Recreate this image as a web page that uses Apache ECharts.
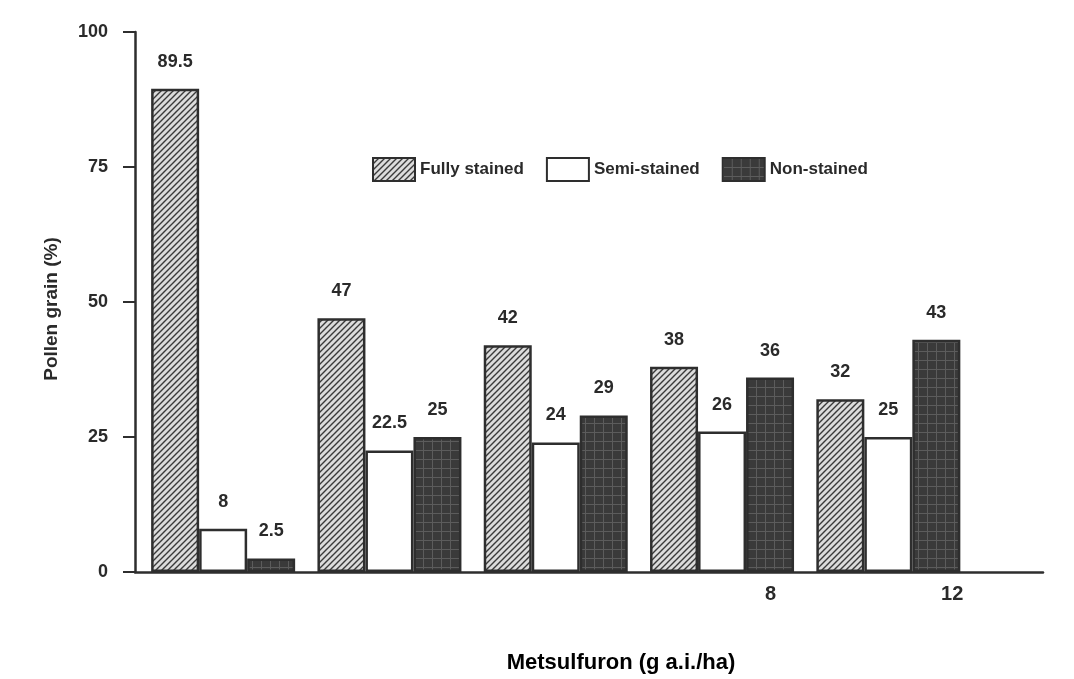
<!DOCTYPE html>
<html>
<head>
<meta charset="utf-8">
<script src="https://cdn.jsdelivr.net/npm/echarts@6/dist/echarts.min.js"></script>
<style>
html,body{margin:0;padding:0;background:#fff;}
#chart{width:1074px;height:679px;}
</style>
</head>
<body>
<div id="chart"></div>
<script>
// ---- data ----
var groupIndex = [0, 1, 2, 3, 4];
var tickLabels = ['', '', '', '8', '12'];
var seriesNames = ['Fully stained', 'Semi-stained', 'Non-stained'];
var fullyStained = [89.5, 47, 42, 38, 32];
var semiStained = [8, 22.5, 24, 26, 25];
var nonStained = [2.5, 25, 29, 36, 43];
var yTicks = [0, 25, 50, 75, 100];

// ---- patterns ----
function hatchPattern() {
  var c = document.createElement('canvas');
  c.width = 6; c.height = 6;
  var g = c.getContext('2d');
  g.fillStyle = '#dcdcdc';
  g.fillRect(0, 0, 6, 6);
  g.strokeStyle = '#3a3a3a';
  g.lineWidth = 1.4;
  g.beginPath();
  g.moveTo(0, 6); g.lineTo(6, 0);
  g.moveTo(-1, 1); g.lineTo(1, -1);
  g.moveTo(5, 7); g.lineTo(7, 5);
  g.stroke();
  return c;
}
function gridPattern() {
  var c = document.createElement('canvas');
  c.width = 9; c.height = 9;
  var g = c.getContext('2d');
  g.fillStyle = '#3a3a3a';
  g.fillRect(0, 0, 9, 9);
  g.fillStyle = '#5c5c5c';
  g.fillRect(0, 0, 9, 1);
  g.fillRect(0, 0, 1, 9);
  return c;
}

function pairs(vals) {
  return vals.map(function (v, i) { return [groupIndex[i], v]; });
}

var fontFam = '"Liberation Sans", Arial, Helvetica, sans-serif';
var textColor = '#2a2a2a';
var edge = '#2e2e2e';

var labelCfg = {
  show: true,
  position: 'top',
  distance: 18,
  fontSize: 18,
  fontWeight: 'bold',
  fontFamily: fontFam,
  color: textColor,
  formatter: function (p) { return p.value[1]; }
};

var chart = echarts.init(document.getElementById('chart'), null, { renderer: 'canvas' });

chart.setOption({
  backgroundColor: '#ffffff',
  animation: false,
  grid: { left: 135, right: 31, top: 32, bottom: 107, containLabel: false },
  legend: {
    left: 367,
    top: 152,
    icon: 'rect',
    itemWidth: 42,
    itemHeight: 23,
    itemGap: 22,
    data: seriesNames,
    textStyle: { fontSize: 17, fontWeight: 'bold', fontFamily: fontFam, color: textColor }
  },
  xAxis: [
    {
      type: 'category',
      data: tickLabels,
      position: 'bottom',
      axisLine: { show: true, onZero: false, lineStyle: { color: edge, width: 2.5 } },
      axisTick: { show: false },
      axisLabel: { fontSize: 20, fontWeight: 'bold', fontFamily: fontFam, color: textColor, margin: 12 },
      name: 'Metsulfuron (g a.i./ha)',
      nameLocation: 'middle',
      nameGap: 80,
      nameTextStyle: { fontSize: 22, fontWeight: 'bold', fontFamily: fontFam, color: '#000', padding: [0, 0, 0, 64] }
    },
    {
      type: 'value',
      min: -0.53,
      max: 4.93,
      show: false
    }
  ],
  yAxis: {
    type: 'value',
    min: 0,
    max: 100,
    interval: 25,
    splitLine: { show: false },
    axisLine: { show: true, onZero: false, lineStyle: { color: edge, width: 2.5 } },
    axisTick: { show: true, length: 12, lineStyle: { color: edge, width: 2 } },
    axisLabel: {
      fontSize: 18, fontWeight: 'bold', fontFamily: fontFam, color: textColor, margin: 27,
      formatter: function (v) { return yTicks.indexOf(v) >= 0 ? String(v) : ''; }
    },
    name: 'Pollen grain (%)',
    nameLocation: 'middle',
    nameGap: 74,
    nameRotate: 90,
    nameTextStyle: { fontSize: 19, fontWeight: 'bold', fontFamily: fontFam, color: textColor, padding: [0, 14, 0, 0] }
  },
  series: [
    {
      name: seriesNames[0],
      type: 'bar',
      xAxisIndex: 1,
      barWidth: 48,
      barGap: '0%',
      data: pairs(fullyStained),
      itemStyle: { color: { image: hatchPattern(), repeat: 'repeat' }, borderColor: edge, borderWidth: 2.5 },
      label: labelCfg
    },
    {
      name: seriesNames[1],
      type: 'bar',
      xAxisIndex: 1,
      barWidth: 48,
      barGap: '0%',
      data: pairs(semiStained),
      itemStyle: { color: '#ffffff', borderColor: edge, borderWidth: 2.5 },
      label: labelCfg
    },
    {
      name: seriesNames[2],
      type: 'bar',
      xAxisIndex: 1,
      barWidth: 48,
      barGap: '0%',
      data: pairs(nonStained),
      itemStyle: { color: { image: gridPattern(), repeat: 'repeat' }, borderColor: edge, borderWidth: 2.5 },
      label: labelCfg
    }
  ]
});
</script>
</body>
</html>
